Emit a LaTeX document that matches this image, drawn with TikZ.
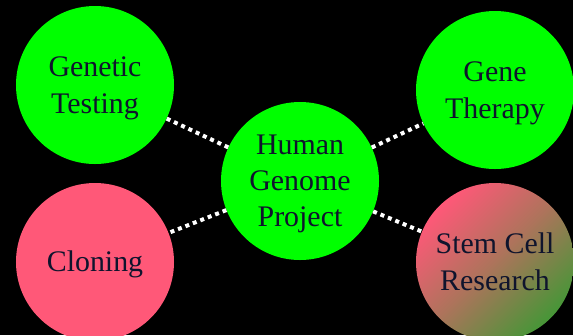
\documentclass[tikz,border=0pt]{standalone}
\usepackage{fontspec}
\setmainfont{Liberation Serif}
\newfontfamily\topicfont{Liberation Serif}
\newcommand\ts{\rule[-8.5bp]{0pt}{36bp}}
\definecolor{topicgreen}{RGB}{0,255,0}
\definecolor{topicpink}{RGB}{255,88,120}
\definecolor{mossgreen}{RGB}{70,150,55}
\definecolor{inkblue}{RGB}{15,20,45}

\begin{document}
\begin{tikzpicture}[x=1bp, y=-1bp,
    every node/.append style={circle, minimum size=158bp, inner sep=0pt, align=center, text=inkblue,
        font=\topicfont\fontsize{30}{36}\selectfont},
    link/.style={draw=white, line width=4bp, dash pattern=on 4bp off 4bp}]
        \fill [black] (0,0) rectangle (573,335);
        \useasboundingbox (0,0) rectangle (573,335);
        \node [fill=topicgreen] (GT) at (95,85) {\ts Genetic\\Testing\ts};
        \node [fill=topicgreen] (GTh) at (495,90) {\ts Gene\\Therapy\ts};
        \node [fill=topicgreen] (HGP) at (300,181) {\ts Human\\Genome\\Project\ts};
        \node [fill=topicpink] (CL) at (95,262) {\ts Cloning\ts};
        \node [top color=topicpink, bottom color=mossgreen, middle color=topicpink!55!mossgreen, shading angle=45] (SCR) at (495,262) {\ts Stem Cell\\Research\ts};

        \draw [link] (HGP) edge (GT);
        \draw [link] (HGP) edge (GTh);
        \draw [link] (HGP) edge (CL);
        \draw [link] (HGP) edge (SCR);
    \end{tikzpicture}
\end{document}
